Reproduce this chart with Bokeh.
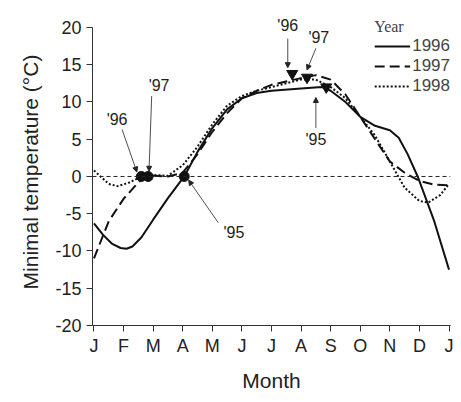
from bokeh.plotting import figure
from bokeh.models import Range1d, Legend, LegendItem, Arrow, NormalHead, Span, Label
from bokeh.embed import file_html
from bokeh.resources import INLINE

months = ["J","F","M","A","M","J","J","A","S","O","N","D","J"]
y_ticks = [-20,-15,-10,-5,0,5,10,15,20]
m96 = [0,0.3,0.6,0.9,1.1,1.3,1.6,2,2.5,3.05,3.5,4,4.5,5,5.5,6,7,7.7,8,8.5,9,9.5,10,10.3,10.6,10.94,11.5,12]
t96 = [-6.3,-7.8,-9,-9.6,-9.7,-9.4,-8.2,-5.8,-2.9,0,3.3,6.5,9,10.5,11.2,11.5,11.8,12,11.5,10,8,6.8,6.2,5.2,3,0,-6,-12.5]
m97 = [0,0.5,1,1.5,1.75,2,2.5,3,3.5,4,4.5,5,5.5,6,7,7.5,8,8.5,9,9.5,10,10.5,11,11.5,12]
t97 = [-11,-6,-3,-0.8,0,0.1,0,0.5,3,6,8.5,10.5,11.5,12.3,13.2,13.6,13,11,8,5,2,0.5,-0.6,-1.1,-1.2]
m98 = [0,0.5,0.8,1.2,1.6,2,2.5,3,3.5,4,4.5,5,5.5,6,6.5,7,7.5,8,8.5,9,9.5,10,10.5,11,11.3,11.7,12]
t98 = [0.8,-1,-1.3,-0.8,0,0.2,0.1,1.5,4,7,9.5,10.8,11.5,12,12.5,13,13,12,10.5,8,5.5,2,-1.5,-3.3,-3.5,-2.5,-1]
zero_m = [1.6,1.83,3.05]
peak_m = [6.7,7.2,7.85]
peak_t = [13.8,13.3,12.0]

p = figure(width=453, height=394, output_backend="svg", toolbar_location=None,
           x_range=Range1d(-0.05,12.05), y_range=Range1d(-20,21.2),
           min_border_left=92, min_border_right=3, min_border_top=18, min_border_bottom=60)
p.outline_line_color = None
p.grid.grid_line_color = None
p.xaxis.ticker = list(range(13))
p.xaxis.major_label_overrides = {i: s for i, s in enumerate(months)}
p.yaxis.ticker = y_ticks
p.yaxis.major_label_overrides = {v: str(v) for v in y_ticks}
for ax in (p.xaxis[0], p.yaxis[0]):
    ax.major_label_text_font = "Liberation Sans"
    ax.major_label_text_font_size = "18px"
    ax.major_label_text_color = "#222"
    ax.axis_label_text_font = "Liberation Sans"
    ax.axis_label_text_font_size = "21px"
    ax.axis_label_text_font_style = "normal"
    ax.axis_label_text_color = "#222"
    ax.minor_tick_line_color = None
    ax.major_tick_out = 6
    ax.major_tick_in = 0
    ax.axis_line_color = "#333"
    ax.major_tick_line_color = "#333"
p.xaxis.axis_label = "Month"
p.yaxis.axis_label = "Minimal temperature (°C)"
p.xaxis.axis_label_standoff = 10
p.xaxis.major_label_standoff = 4
p.yaxis.axis_label_standoff = 10
p.yaxis.bounds = (-20, 20)

p.add_layout(Span(location=0, dimension="width", line_dash="4 3", line_color="#222", line_width=1))

r1 = p.line(m96, t96, line_color="#111", line_width=2)
r2 = p.line(m97, t97, line_color="#111", line_width=2, line_dash="10 5")
r3 = p.line(m98, t98, line_color="#111", line_width=2, line_dash="2 2")

p.scatter(zero_m, [0]*3, size=10, color="#111")
p.scatter(peak_m, peak_t, size=11, marker="inverted_triangle", color="#111")

def arr(x0, y0, x1, y1):
    p.add_layout(Arrow(end=NormalHead(size=5, fill_color="#222", line_color="#222"),
                       x_start=x0, y_start=y0, x_end=x1, y_end=y1, line_width=0.8, line_color="#222"))
def lab(x, y, t):
    p.add_layout(Label(x=x, y=y, text=t, text_font="Liberation Sans", text_font_size="16px",
                       text_align="center", text_baseline="middle", text_color="#222"))

lab(0.78, 7.7, "'96"); arr(0.95, 6.3, 1.45, 0.6)
lab(2.2, 12.2, "'97"); arr(1.95, 10.8, 1.86, 0.7)
lab(4.73, -7.5, "'95"); arr(4.2, -6.2, 3.2, -0.5)
lab(6.55, 20.3, "'96"); arr(6.55, 18.5, 6.55, 14.6)
lab(7.6, 18.6, "'97"); arr(7.5, 17.2, 7.2, 14.3)
lab(7.5, 5.0, "'95"); arr(7.5, 6.5, 7.5, 10.6)

leg = Legend(items=[LegendItem(label="1996", renderers=[r1]),
                    LegendItem(label="1997", renderers=[r2]),
                    LegendItem(label="1998", renderers=[r3])],
             location="top_right", title="Year", title_text_font="Liberation Serif",
             title_text_font_style="normal",
             title_text_font_size="16px", label_text_font="Liberation Sans",
             label_text_font_size="17px", background_fill_alpha=0, border_line_color=None,
             glyph_width=36, glyph_height=16, label_height=16, spacing=0, padding=0, margin=0,
             label_standoff=2, title_standoff=0)
p.add_layout(leg)

open("out.html", "w").write(file_html(p, INLINE))
